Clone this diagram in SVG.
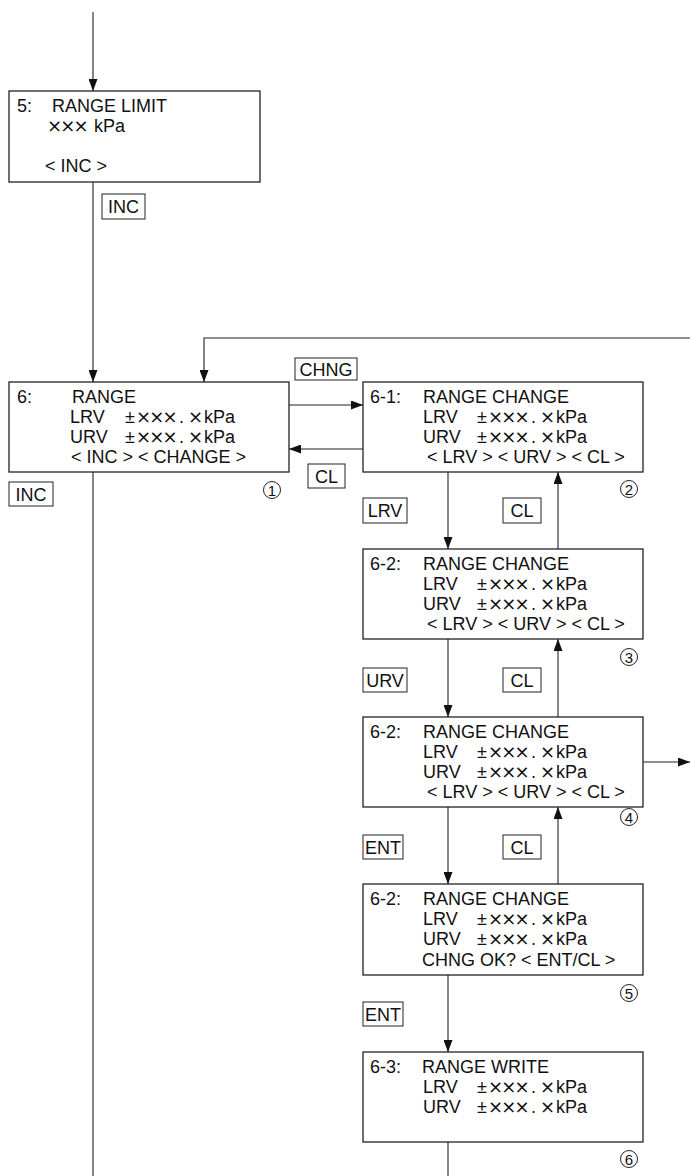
<svg xmlns="http://www.w3.org/2000/svg" width="690" height="1176" viewBox="0 0 690 1176">
<style>
.box{fill:#fff;stroke:#222;stroke-width:1.3}
.lbl{fill:#fff;stroke:#222;stroke-width:1}
.ln{fill:none;stroke:#222;stroke-width:1.1}
text{font-family:"Liberation Sans",Arial,sans-serif;fill:#111}
.t{font-size:18px}
.l{font-size:18px;text-anchor:middle}
.m{font-family:"DejaVu Sans",sans-serif;letter-spacing:-1.8px}
.c{fill:#fff;stroke:#222;stroke-width:1}
.n{font-size:15px;text-anchor:middle}
</style>
<defs>
<marker id="ah" markerUnits="userSpaceOnUse" markerWidth="12" markerHeight="9" refX="12" refY="4.5" orient="auto">
<path d="M0,0 L12,4.5 L0,9 z" fill="#111"/>
</marker>
</defs>
<rect width="690" height="1176" fill="#fff"/>
<g id="connectors">
<line class="ln" x1="93" y1="12" x2="93" y2="91" marker-end="url(#ah)"/>
<line class="ln" x1="93" y1="182" x2="93" y2="382" marker-end="url(#ah)"/>
<polyline class="ln" points="690,338 204,338 204,382" marker-end="url(#ah)"/>
<line class="ln" x1="289" y1="405" x2="363" y2="405" marker-end="url(#ah)"/>
<line class="ln" x1="363" y1="449" x2="289" y2="449" marker-end="url(#ah)"/>
<line class="ln" x1="93" y1="472" x2="93" y2="1176"/>
<line class="ln" x1="448" y1="472" x2="448" y2="549" marker-end="url(#ah)"/>
<line class="ln" x1="558" y1="549" x2="558" y2="472" marker-end="url(#ah)"/>
<line class="ln" x1="448" y1="639" x2="448" y2="717" marker-end="url(#ah)"/>
<line class="ln" x1="558" y1="717" x2="558" y2="639" marker-end="url(#ah)"/>
<line class="ln" x1="643" y1="762" x2="690" y2="762" marker-end="url(#ah)"/>
<line class="ln" x1="448" y1="807" x2="448" y2="884" marker-end="url(#ah)"/>
<line class="ln" x1="558" y1="884" x2="558" y2="807" marker-end="url(#ah)"/>
<line class="ln" x1="448" y1="975" x2="448" y2="1052" marker-end="url(#ah)"/>
<line class="ln" x1="448" y1="1142" x2="448" y2="1176"/>
</g>
<g id="labels">
<rect class="lbl" x="102" y="194" width="43" height="25"/><text class="l" x="123.5" y="213">INC</text>
<rect class="lbl" x="9" y="482" width="44" height="24"/><text class="l" x="31" y="500.5">INC</text>
<rect class="lbl" x="295" y="358" width="62" height="22"/><text class="l" x="326" y="375.5">CHNG</text>
<rect class="lbl" x="308" y="464" width="37" height="24"/><text class="l" x="326.5" y="482.5">CL</text>
<rect class="lbl" x="363" y="498" width="44" height="25"/><text class="l" x="385" y="517">LRV</text>
<rect class="lbl" x="503" y="498" width="38" height="25"/><text class="l" x="522" y="517">CL</text>
<rect class="lbl" x="363" y="668" width="44" height="24"/><text class="l" x="385" y="686.5">URV</text>
<rect class="lbl" x="503" y="668" width="38" height="24"/><text class="l" x="522" y="686.5">CL</text>
<rect class="lbl" x="363" y="835" width="40" height="24"/><text class="l" x="383" y="853.5">ENT</text>
<rect class="lbl" x="503" y="835" width="38" height="24"/><text class="l" x="522" y="853.5">CL</text>
<rect class="lbl" x="363" y="1002" width="40" height="24"/><text class="l" x="383" y="1020.5">ENT</text>
</g>
<g id="n5">
<rect class="box" x="9" y="91" width="251" height="91"/>
<text class="t" x="17" y="112">5:</text>
<text class="t" x="52" y="112">RANGE LIMIT</text>
<text class="t" y="132"><tspan class="m" x="47">×××</tspan><tspan x="94">kPa</tspan></text>
<text class="t" x="45" y="172">&lt; INC &gt;</text>
</g>
<g id="n6">
<rect class="box" x="9" y="382" width="280" height="90"/>
<text class="t" x="17" y="403">6:</text>
<text class="t" x="72" y="403">RANGE</text>
<text class="t" x="70" y="423">LRV</text>
<text class="t" y="423"><tspan x="125">±</tspan><tspan class="m" x="136">×××</tspan><tspan x="179">.</tspan><tspan class="m" x="188">×</tspan><tspan x="204">kPa</tspan></text>
<text class="t" x="70" y="443">URV</text>
<text class="t" y="443"><tspan x="125">±</tspan><tspan class="m" x="136">×××</tspan><tspan x="179">.</tspan><tspan class="m" x="188">×</tspan><tspan x="204">kPa</tspan></text>
<text class="t" x="71" y="463">&lt; INC &gt; &lt; CHANGE &gt;</text>
<circle class="c" cx="272" cy="490" r="8.5"/><text class="n" x="272" y="495.5">1</text>
</g>
<g id="n6-1">
<rect class="box" x="363" y="382" width="280" height="90"/>
<text class="t" x="370" y="403">6-1:</text>
<text class="t" x="423" y="403">RANGE CHANGE</text>
<text class="t" x="423" y="423">LRV</text>
<text class="t" y="423"><tspan x="477">±</tspan><tspan class="m" x="488">×××</tspan><tspan x="531">.</tspan><tspan class="m" x="540">×</tspan><tspan x="556">kPa</tspan></text>
<text class="t" x="423" y="443">URV</text>
<text class="t" y="443"><tspan x="477">±</tspan><tspan class="m" x="488">×××</tspan><tspan x="531">.</tspan><tspan class="m" x="540">×</tspan><tspan x="556">kPa</tspan></text>
<text class="t" x="427" y="463">&lt; LRV &gt; &lt; URV &gt; &lt; CL &gt;</text>
<circle class="c" cx="629" cy="489" r="8.5"/><text class="n" x="629" y="494.5">2</text>
</g>
<g id="n6-2a">
<rect class="box" x="363" y="549" width="280" height="90"/>
<text class="t" x="370" y="570">6-2:</text>
<text class="t" x="423" y="570">RANGE CHANGE</text>
<text class="t" x="423" y="590">LRV</text>
<text class="t" y="590"><tspan x="477">±</tspan><tspan class="m" x="488">×××</tspan><tspan x="531">.</tspan><tspan class="m" x="540">×</tspan><tspan x="556">kPa</tspan></text>
<text class="t" x="423" y="610">URV</text>
<text class="t" y="610"><tspan x="477">±</tspan><tspan class="m" x="488">×××</tspan><tspan x="531">.</tspan><tspan class="m" x="540">×</tspan><tspan x="556">kPa</tspan></text>
<text class="t" x="427" y="630">&lt; LRV &gt; &lt; URV &gt; &lt; CL &gt;</text>
<circle class="c" cx="629" cy="657" r="8.5"/><text class="n" x="629" y="662.5">3</text>
</g>
<g id="n6-2b">
<rect class="box" x="363" y="717" width="280" height="90"/>
<text class="t" x="370" y="738">6-2:</text>
<text class="t" x="423" y="738">RANGE CHANGE</text>
<text class="t" x="423" y="758">LRV</text>
<text class="t" y="758"><tspan x="477">±</tspan><tspan class="m" x="488">×××</tspan><tspan x="531">.</tspan><tspan class="m" x="540">×</tspan><tspan x="556">kPa</tspan></text>
<text class="t" x="423" y="778">URV</text>
<text class="t" y="778"><tspan x="477">±</tspan><tspan class="m" x="488">×××</tspan><tspan x="531">.</tspan><tspan class="m" x="540">×</tspan><tspan x="556">kPa</tspan></text>
<text class="t" x="427" y="798">&lt; LRV &gt; &lt; URV &gt; &lt; CL &gt;</text>
<circle class="c" cx="629" cy="817" r="8.5"/><text class="n" x="629" y="822.5">4</text>
</g>
<g id="n6-2c">
<rect class="box" x="363" y="884" width="280" height="91"/>
<text class="t" x="370" y="905">6-2:</text>
<text class="t" x="423" y="905">RANGE CHANGE</text>
<text class="t" x="423" y="925">LRV</text>
<text class="t" y="925"><tspan x="477">±</tspan><tspan class="m" x="488">×××</tspan><tspan x="531">.</tspan><tspan class="m" x="540">×</tspan><tspan x="556">kPa</tspan></text>
<text class="t" x="423" y="945">URV</text>
<text class="t" y="945"><tspan x="477">±</tspan><tspan class="m" x="488">×××</tspan><tspan x="531">.</tspan><tspan class="m" x="540">×</tspan><tspan x="556">kPa</tspan></text>
<text class="t" x="422" y="966">CHNG OK? &lt; ENT/CL &gt;</text>
<circle class="c" cx="629" cy="993" r="8.5"/><text class="n" x="629" y="998.5">5</text>
</g>
<g id="n6-3">
<rect class="box" x="363" y="1052" width="280" height="90"/>
<text class="t" x="370" y="1073">6-3:</text>
<text class="t" x="422" y="1073">RANGE WRITE</text>
<text class="t" x="423" y="1093">LRV</text>
<text class="t" y="1093"><tspan x="477">±</tspan><tspan class="m" x="488">×××</tspan><tspan x="531">.</tspan><tspan class="m" x="540">×</tspan><tspan x="556">kPa</tspan></text>
<text class="t" x="423" y="1113">URV</text>
<text class="t" y="1113"><tspan x="477">±</tspan><tspan class="m" x="488">×××</tspan><tspan x="531">.</tspan><tspan class="m" x="540">×</tspan><tspan x="556">kPa</tspan></text>
<circle class="c" cx="629" cy="1159" r="8.5"/><text class="n" x="629" y="1164.5">6</text>
</g>
</svg>
